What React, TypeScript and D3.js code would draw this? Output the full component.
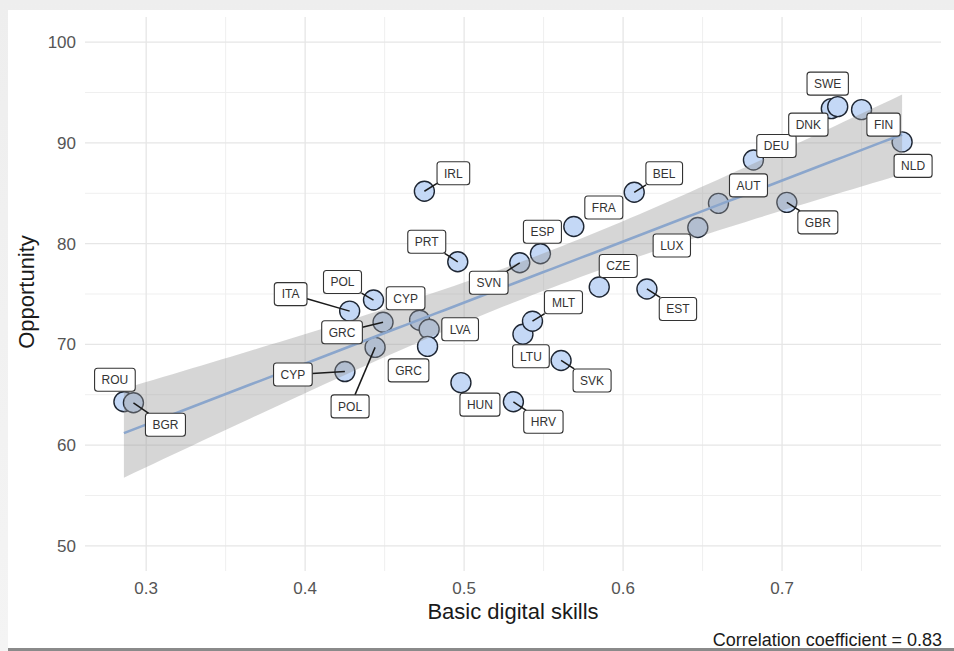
import React from 'react';
import * as d3 from 'd3';

const countries = ['ROU','BGR','ITA','CYP','POL','GRC','POL','CYP','LVA','GRC','HUN','HRV','LTU','MLT','SVK','CZE','EST','IRL','PRT','SVN','ESP','FRA','BEL','LUX','AUT','DEU','GBR','DNK','SWE','FIN','NLD'];
const basicDigitalSkills = [0.286,0.292,0.428,0.425,0.443,0.449,0.444,0.472,0.478,0.477,0.498,0.531,0.537,0.543,0.561,0.585,0.615,0.475,0.496,0.535,0.548,0.569,0.607,0.647,0.660,0.682,0.703,0.731,0.735,0.750,0.7755];
const opportunity = [64.3,64.2,73.3,67.3,74.4,72.2,69.7,72.4,71.5,69.8,66.2,64.3,71.0,72.3,68.4,75.7,75.5,85.2,78.2,78.1,79.0,81.7,85.1,81.6,84.0,88.3,84.1,93.4,93.6,93.3,90.1];
const xTicks = [0.3, 0.4, 0.5, 0.6, 0.7];
const xMinor = [0.35, 0.45, 0.55, 0.65, 0.75];
const yTicks = [50, 60, 70, 80, 90, 100];
const yMinor = [55, 65, 75, 85, 95];

// label placement (pixel offsets from point) and whether a leader segment is drawn
const labelLayout: [number, number, boolean][] = [
  [-9,-22,false],[32,22,true],[-59,-17,true],[-52,3,true],[-31,-18,true],[-41,10,true],[-25,59,true],[-14,-22,false],[31,0,false],[-19,24,false],
  [19,22,false],[30,20,true],[8,22,false],[31,-19,true],[31,20,true],[19,-21,false],[31,20,true],[29,-18,true],[-31,-20,true],[-31,20,true],
  [2,-22,false],[30,-19,false],[30,-19,true],[-26,18,false],[30,-18,false],[23,-14,false],[31,20,true],[-23,16,false],[-10,-23,false],[22,15,false],[11,24,false]
];

const charW: Record<string, number> = {A:.667,B:.667,C:.722,D:.722,E:.667,F:.611,G:.778,H:.722,I:.278,K:.667,L:.556,M:.833,N:.722,O:.778,P:.667,R:.722,S:.667,T:.611,U:.722,V:.667,W:.944,X:.667,Y:.667,Z:.611};

const FONT = '"Liberation Sans", Arial, Helvetica, sans-serif';

export default function App() {
  const W = 954, H = 651;
  const L = 85, R = 941, T = 17, B = 571;
  const [xmin, xmax] = d3.extent(basicDigitalSkills) as [number, number];
  const xr = xmax - xmin;
  const x = d3.scaleLinear().domain([xmin - 0.05 * xr, xmax + 0.05 * xr]).range([L, R]);
  const y = d3.scaleLinear().domain([47.5, 102.5]).range([B, T]);

  const n = basicDigitalSkills.length;
  const mx = d3.mean(basicDigitalSkills) as number;
  const my = d3.mean(opportunity) as number;
  let sxx = 0, sxy = 0;
  for (let i = 0; i < n; i++) {
    sxx += (basicDigitalSkills[i] - mx) ** 2;
    sxy += (basicDigitalSkills[i] - mx) * (opportunity[i] - my);
  }
  const b = sxy / sxx, a = my - b * mx;
  let sse = 0;
  for (let i = 0; i < n; i++) sse += (opportunity[i] - a - b * basicDigitalSkills[i]) ** 2;
  const s = Math.sqrt(sse / (n - 2));
  const tq = 2.045;
  const grid = d3.range(0, 81).map(k => xmin + (xr * k) / 80);
  const band = grid.map(gx => {
    const f = a + b * gx;
    const se = s * Math.sqrt(1 / n + (gx - mx) ** 2 / sxx);
    return { gx, f, lo: f - tq * se, hi: f + tq * se };
  });
  const area = d3.area<any>().x(d => x(d.gx)).y0(d => y(d.lo)).y1(d => y(d.hi));
  const line = d3.line<any>().x(d => x(d.gx)).y(d => y(d.f));

  const labels = countries.map((c, i) => {
    const px = x(basicDigitalSkills[i]), py = y(opportunity[i]);
    const [dx, dy, seg] = labelLayout[i];
    const tw = c.split('').reduce((acc, ch) => acc + (charW[ch] || 0.667), 0) * 12;
    const bw = tw + 14, bh = 23;
    const cx = px + dx, cy = py + dy;
    const vx = cx - px, vy = cy - py;
    const ts: number[] = [];
    if (vx !== 0) ts.push(((vx > 0 ? cx - bw / 2 : cx + bw / 2) - px) / vx);
    if (vy !== 0) ts.push(((vy > 0 ? cy - bh / 2 : cy + bh / 2) - py) / vy);
    const tt = Math.max(...ts);
    const ex = px + vx * tt, ey = py + vy * tt;
    return { c, px, py, cx, cy, bw, bh, seg, ex, ey };
  });

  return (
    <svg width={W} height={H} style={{ position: 'absolute', left: 0, top: 0, fontFamily: FONT }}>
      <defs>
        <linearGradient id="bgfade" x1="0" y1="0" x2="0" y2="1">
          <stop offset="0" stopColor="#eeeeee" />
          <stop offset="1" stopColor="#f4f4f4" />
        </linearGradient>
      </defs>
      <rect x={0} y={0} width={W} height={H} fill="url(#bgfade)" />
      <rect x={8} y={10} width={946} height={639} fill="#ffffff" />
      <rect x={8} y={648} width={946} height={3} fill="#8a8a8a" />

      {/* grid */}
      {yMinor.map(v => <line key={'ym' + v} x1={L} x2={R} y1={y(v)} y2={y(v)} stroke="#efefef" strokeWidth={1} />)}
      {xMinor.map(v => <line key={'xm' + v} x1={x(v)} x2={x(v)} y1={T} y2={B} stroke="#efefef" strokeWidth={1} />)}
      {yTicks.map(v => <line key={'yg' + v} x1={L} x2={R} y1={y(v)} y2={y(v)} stroke="#e6e6e6" strokeWidth={1.3} />)}
      {xTicks.map(v => <line key={'xg' + v} x1={x(v)} x2={x(v)} y1={T} y2={B} stroke="#e6e6e6" strokeWidth={1.3} />)}

      {/* tick labels */}
      {yTicks.map(v => (
        <text key={'yt' + v} x={76} y={y(v)} dy="0.35em" textAnchor="end" fontSize={17} fill="#555555">{v}</text>
      ))}
      {xTicks.map(v => (
        <text key={'xt' + v} x={x(v)} y={594} textAnchor="middle" fontSize={17} fill="#555555">{d3.format('.1f')(v)}</text>
      ))}

      {/* points */}
      {labels.map((d, i) => (
        <circle key={'p' + i} cx={d.px} cy={d.py} r={10} fill="#c4d8f6" stroke="#1e2633" strokeWidth={1.4} />
      ))}

      {/* smooth */}
      <path d={area(band) as string} fill="#999999" fillOpacity={0.4} />
      <path d={line(band) as string} fill="none" stroke="#8ba6cc" strokeWidth={2.6} />

      {/* segments */}
      {labels.filter(d => d.seg).map((d, i) => (
        <line key={'s' + i} x1={d.px} y1={d.py} x2={d.ex} y2={d.ey} stroke="#1a1a1a" strokeWidth={1.5} />
      ))}

      {/* labels */}
      {labels.map((d, i) => (
        <g key={'l' + i}>
          <rect x={d.cx - d.bw / 2} y={d.cy - d.bh / 2} width={d.bw} height={d.bh} rx={3} fill="#ffffff" stroke="#333333" strokeWidth={1.1} />
          <text x={d.cx} y={d.cy} dy="0.36em" textAnchor="middle" fontSize={12} fill="#333333">{d.c}</text>
        </g>
      ))}

      {/* axis titles */}
      <text x={513} y={619} textAnchor="middle" fontSize={22} fill="#1a1a1a">Basic digital skills</text>
      <text transform={`translate(34,${(T + B) / 2 - 2}) rotate(-90)`} textAnchor="middle" fontSize={22} fill="#1a1a1a">Opportunity</text>
      <text x={942} y={646} textAnchor="end" fontSize={18} fill="#1a1a1a">Correlation coefficient = 0.83</text>
    </svg>
  );
}
